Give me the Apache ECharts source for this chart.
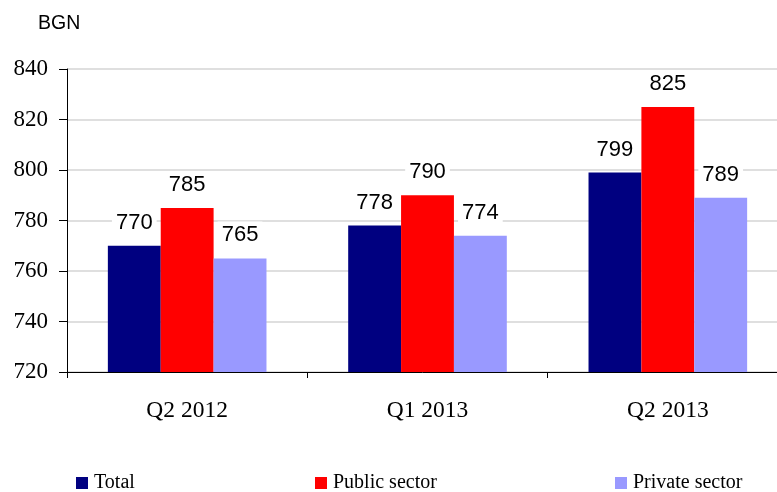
<!DOCTYPE html>
<html><head><meta charset="utf-8">
<script src="https://cdn.jsdelivr.net/npm/echarts@6/dist/echarts.min.js"></script>
<style>html,body{margin:0;padding:0;background:#fff}#c{width:777px;height:492px}</style>
</head><body><div id="c"></div>
<script>
const categories = ['Q2 2012', 'Q1 2013', 'Q2 2013'];
const seriesNames = ['Total', 'Public sector', 'Private sector'];
const totalValues = [770, 778, 799];
const publicValues = [785, 790, 825];
const privateValues = [765, 774, 789];
const colors = ['#000080', '#FF0000', '#9999FF'];
const yMin = 720, yMax = 840, yStep = 20;

const chart = echarts.init(document.getElementById('c'), null, {renderer: 'canvas'});
const labelStyle = {
  show: true, position: 'top', distance: 11,
  fontFamily: 'Liberation Sans, Arial', fontSize: 22, color: '#000',
  backgroundColor: '#fff', padding: [3, 4, 1, 4]
};
const vals = [totalValues, publicValues, privateValues];
const legendLefts = [71, 310, 610];
chart.setOption({
  animation: false,
  title: {text: 'BGN', left: 38, top: 14, padding: 0,
    textStyle: {fontFamily: 'Liberation Sans, Arial', fontSize: 19.5, fontWeight: 'normal', color: '#000'}},
  grid: {left: 67, width: 721, top: 69, height: 303, outerBoundsMode: 'none', containLabel: false},
  legend: seriesNames.map((n, i) => ({
    data: [n], left: legendLefts[i], top: 468, itemWidth: 12, itemHeight: 12, itemGap: 0,
    icon: 'rect',
    textStyle: {fontFamily: 'Liberation Serif, Times New Roman', fontSize: 20, color: '#000', padding: [0, 0, 0, 1]}
  })),
  xAxis: {
    type: 'category', data: categories,
    axisLine: {lineStyle: {color: '#000', width: 1}},
    axisTick: {show: true, length: 6, lineStyle: {color: '#000'}, alignWithLabel: false},
    axisLabel: {fontFamily: 'Liberation Serif, Times New Roman', fontSize: 23.5, color: '#000', margin: 27}
  },
  yAxis: {
    type: 'value', min: yMin, max: yMax, interval: yStep,
    axisLine: {show: true, lineStyle: {color: '#000', width: 1}},
    axisTick: {show: true, length: 8, lineStyle: {color: '#000'}},
    axisLabel: {fontFamily: 'Liberation Serif, Times New Roman', fontSize: 23, color: '#000', margin: 19},
    splitLine: {show: true, lineStyle: {color: '#d4d4d4', width: 1.5}}
  },
  series: seriesNames.map((n, i) => ({
    name: n, type: 'bar', data: vals[i],
    itemStyle: {color: colors[i]},
    barGap: '0%', barCategoryGap: '34%',
    label: labelStyle,
    z: 2
  }))
});
</script></body></html>
